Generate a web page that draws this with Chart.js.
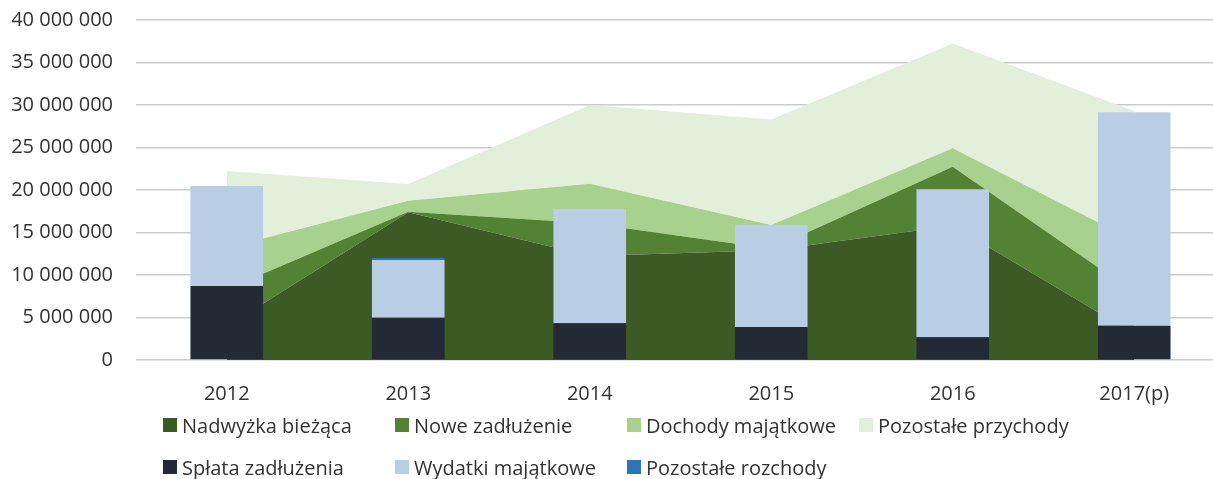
<!DOCTYPE html>
<html>
<head>
<meta charset="utf-8">
<script src="https://cdn.jsdelivr.net/npm/chart.js@4"></script>
<style>
  body { margin: 0; overflow: hidden; background: #fff; font-family: "Open Sans", sans-serif; }
  #wrap { position: relative; width: 1225px; height: 479px; }
  #box { position: absolute; left: 0; top: 0; width: 1225px; height: 420px; }
  #legend { position: absolute; left: 163px; top: 404px; display: grid;
            grid-template-columns: repeat(4, 232px); grid-auto-rows: 42px; }
  .item { display: flex; align-items: center; font-size: 20px; color: #333; white-space: nowrap; }
  .sw { width: 14px; height: 14px; margin-right: 5px; flex: none; }
</style>
</head>
<body>
<div id="wrap">
  <div id="box"><canvas id="data_viz"></canvas></div>
  <div id="legend"></div>
</div>
<script>
// years on the x axis
var years = ['2012', '2013', '2014', '2015', '2016', '2017(p)']

// revenue side (stacked areas)
var nadwyzkaBiezaca = [3930000, 17370000, 12240000, 12900000, 15800000, 3100000]
var noweZadluzenie = [4400000, 80000, 3860000, 200000, 6950000, 4830000]
var dochodyMajatkowe = [4840000, 1290000, 4640000, 2780000, 2150000, 6100000]
var pozostalePrzychody = [9070000, 1960000, 9260000, 12420000, 12350000, 15270000]

// spending side (stacked bars)
var splataZadluzenia = [8700000, 4980000, 4310000, 3880000, 2670000, 4040000]
var wydatkiMajatkowe = [11770000, 6780000, 13490000, 12040000, 17410000, 25100000]
var pozostaleRozchody = [null, 250000, null, null, null, null]

function area(label, data, color, fill) {
  return {
    type: 'line', label: label, data: data, stack: 'przychody', order: 1,
    backgroundColor: color, borderColor: color, borderWidth: 0,
    pointRadius: 0, pointHoverRadius: 0, tension: 0, fill: fill
  }
}

function bar(label, data, color) {
  return {
    type: 'bar', label: label, data: data, stack: 'rozchody', order: 0,
    backgroundColor: color, borderWidth: 0,
    categoryPercentage: 1, barPercentage: 0.4
  }
}

var spaced = function(v) {
  return String(v).replace(/\B(?=(\d{3})+(?!\d))/g, ' ')
}

var ctx = document.getElementById('data_viz')
var chart = new Chart(ctx, {
  type: 'bar',
  data: {
    labels: years,
    datasets: [
      area('Nadwyżka bieżąca', nadwyzkaBiezaca, '#3b5a24', 'origin'),
      area('Nowe zadłużenie', noweZadluzenie, '#548235', '-1'),
      area('Dochody majątkowe', dochodyMajatkowe, '#a9d18e', '-1'),
      area('Pozostałe przychody', pozostalePrzychody, '#e2efda', '-1'),
      bar('Spłata zadłużenia', splataZadluzenia, '#222a35'),
      bar('Wydatki majątkowe', wydatkiMajatkowe, '#b9cde5'),
      bar('Pozostałe rozchody', pozostaleRozchody, '#2e75b6')
    ]
  },
  options: {
    responsive: true,
    maintainAspectRatio: false,
    animation: false,
    layout: { padding: { top: 20, left: 0, right: 0, bottom: 0 } },
    plugins: { legend: { display: false }, tooltip: { enabled: false } },
    scales: {
      x: {
        stacked: true,
        grid: { display: false },
        border: { display: false },
        ticks: { color: '#333', padding: 14, font: { family: 'Open Sans', size: 20 } },
        afterFit: function(s) { s.height = 60 }
      },
      y: {
        stacked: true,
        min: 0,
        max: 40000000,
        // invisible tick marks give the gap between labels and plot
        grid: { color: '#cccccc', lineWidth: 1.5, drawTicks: true, tickLength: 23, tickColor: 'rgba(0,0,0,0)' },
        border: { display: false },
        ticks: {
          stepSize: 5000000, padding: 0, color: '#333',
          font: { family: 'Open Sans', size: 20 },
          callback: function(v) { return spaced(v) }
        },
        afterFit: function(s) { s.width = 136 }
      }
    }
  }
})

// html legend laid out in columns like the original
var legend = document.getElementById('legend')
chart.data.datasets.forEach(function(d) {
  var item = document.createElement('div')
  item.className = 'item'
  var sw = document.createElement('span')
  sw.className = 'sw'
  sw.style.background = d.backgroundColor
  item.appendChild(sw)
  item.appendChild(document.createTextNode(d.label))
  legend.appendChild(item)
})
</script>
</body>
</html>
